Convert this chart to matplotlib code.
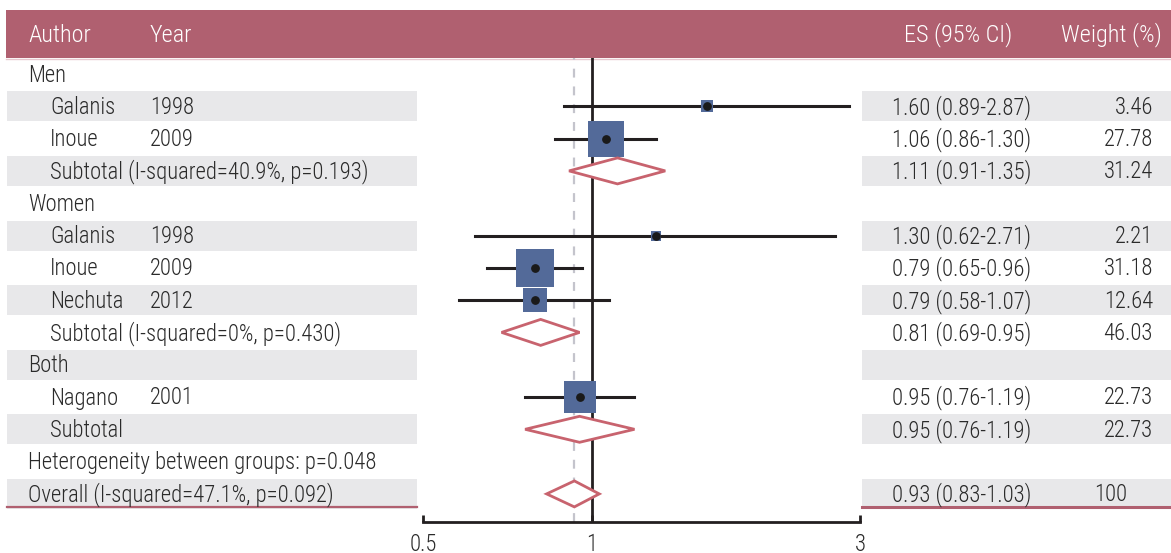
import matplotlib.pyplot as plt
from matplotlib.patches import Rectangle, Polygon
import matplotlib.ticker as mticker

plt.rcParams['font.family'] = ['Roboto Condensed', 'DejaVu Sans']
plt.rcParams['font.weight'] = 'light'

# table rows (kind: group / study / subtotal / text / overall)
kinds = ['group', 'study', 'study', 'subtotal', 'group', 'study', 'study', 'study',
         'subtotal', 'group', 'study', 'subtotal', 'text', 'overall']
authors = ['Men', 'Galanis', 'Inoue', 'Subtotal (I-squared=40.9%, p=0.193)',
           'Women', 'Galanis', 'Inoue', 'Nechuta', 'Subtotal (I-squared=0%, p=0.430)',
           'Both', 'Nagano', 'Subtotal', 'Heterogeneity between groups: p=0.048',
           'Overall (I-squared=47.1%, p=0.092)']
years = ['', '1998', '2009', '', '', '1998', '2009', '2012', '', '', '2001', '', '', '']
es = [None, 1.60, 1.06, 1.11, None, 1.30, 0.79, 0.79, 0.81, None, 0.95, 0.95, None, 0.93]
lo = [None, 0.89, 0.86, 0.91, None, 0.62, 0.65, 0.58, 0.69, None, 0.76, 0.76, None, 0.83]
hi = [None, 2.87, 1.30, 1.35, None, 2.71, 0.96, 1.07, 0.95, None, 1.19, 1.19, None, 1.03]
weights = ['', '3.46', '27.78', '31.24', '', '2.21', '31.18', '12.64', '46.03', '',
           '22.73', '22.73', '', '100']
xticks = [0.5, 1, 3]

W, H = 1171, 553
maroon = '#b06070'
grey = '#e8e8ea'
blue = '#536a99'
dmd = '#c8636e'
txt = '#2a2a2a'
fs = 16.3

fig = plt.figure(figsize=(W / 100, H / 100), dpi=100)
bg = fig.add_axes([0, 0, 1, 1])
bg.set_xlim(0, W)
bg.set_ylim(H, 0)
bg.axis('off')

row0, dy = 74, 32.3
rows_y = [row0 + i * dy for i in range(len(kinds))]

# header
bg.add_patch(Rectangle((6, 10), W - 6, 48, color=maroon, lw=0))
bg.plot([6, W], [58.5, 58.5], color='#e6c8cf', lw=1)
hfont = dict(color='white', fontsize=17.5, va='center')
bg.text(28, 35, 'Author', ha='left', **hfont)
bg.text(150, 35, 'Year', ha='left', **hfont)
bg.text(1012, 35, 'ES (95% CI)', ha='right', **hfont)
bg.text(1162, 35, 'Weight (%)', ha='right', **hfont)

for i, y in enumerate(rows_y):
    if i % 2 == 1:
        bg.add_patch(Rectangle((7, y - 15), 410, 30, color=grey, lw=0))
        bg.add_patch(Rectangle((862, y - 15), W - 862, 30, color=grey, lw=0))
    k = kinds[i]
    x = 50 if k in ('study', 'subtotal') else 28
    bg.text(x, y + 1, authors[i], ha='left', va='center', fontsize=fs, color=txt)
    if years[i]:
        bg.text(150, y + 1, years[i], ha='left', va='center', fontsize=fs, color=txt)
    if es[i] is not None:
        bg.text(892, y + 1, f'{es[i]:.2f} ({lo[i]:.2f}-{hi[i]:.2f})', ha='left',
                va='center', fontsize=fs, color=txt)
    if weights[i]:
        wx = 1127 if k == 'overall' else 1153
        bg.text(wx, y + 1, weights[i], ha='right', va='center', fontsize=fs, color=txt)

yb = rows_y[-1] + 13
bg.plot([7, 417], [yb, yb], color=maroon, lw=1.6)
bg.plot([862, W], [yb, yb], color=maroon, lw=2.2)

# forest plot axes
ax = fig.add_axes([423 / W, (H - 522) / H, (860 - 423) / W, (522 - 58) / H])
ax.patch.set_alpha(0)
ax.set_xscale('log')
ax.set_xlim(xticks[0], xticks[-1])
ax.set_ylim(522, 58)
for s in ('top', 'left', 'right'):
    ax.spines[s].set_visible(False)
ax.spines['bottom'].set_linewidth(2)
ax.spines['bottom'].set_color('#231f20')
ax.xaxis.set_major_locator(mticker.FixedLocator(xticks))
ax.xaxis.set_minor_locator(mticker.NullLocator())
ax.set_xticklabels(['0.5', '1', '3'])
ax.tick_params(axis='x', direction='in', length=5, width=2, color='#231f20',
               labelsize=fs, labelcolor=txt, pad=8)
ax.set_yticks([])

ax.axvline(1, color='#231f20', lw=2, zorder=2)
ax.axvline(es[-1], color='#c4c4cc', lw=1.6, ls=(0, (4, 4)), zorder=1)

for i, y in enumerate(rows_y):
    k = kinds[i]
    if k == 'study':
        ax.plot([lo[i], hi[i]], [y, y], color='#231f20', lw=2.2, zorder=3)
        ax.scatter([es[i]], [y], s=23 * float(weights[i]), marker='s', color=blue,
                   lw=0, zorder=4)
        ax.scatter([es[i]], [y], s=28, color='#1a1a1a', zorder=5)
    elif k in ('subtotal', 'overall'):
        h = 13
        ax.add_patch(Polygon([(lo[i], y), (es[i], y - h), (hi[i], y), (es[i], y + h)],
                             closed=True, facecolor='white', edgecolor=dmd, lw=2,
                             zorder=4))

fig.savefig('out.png', dpi=100)
